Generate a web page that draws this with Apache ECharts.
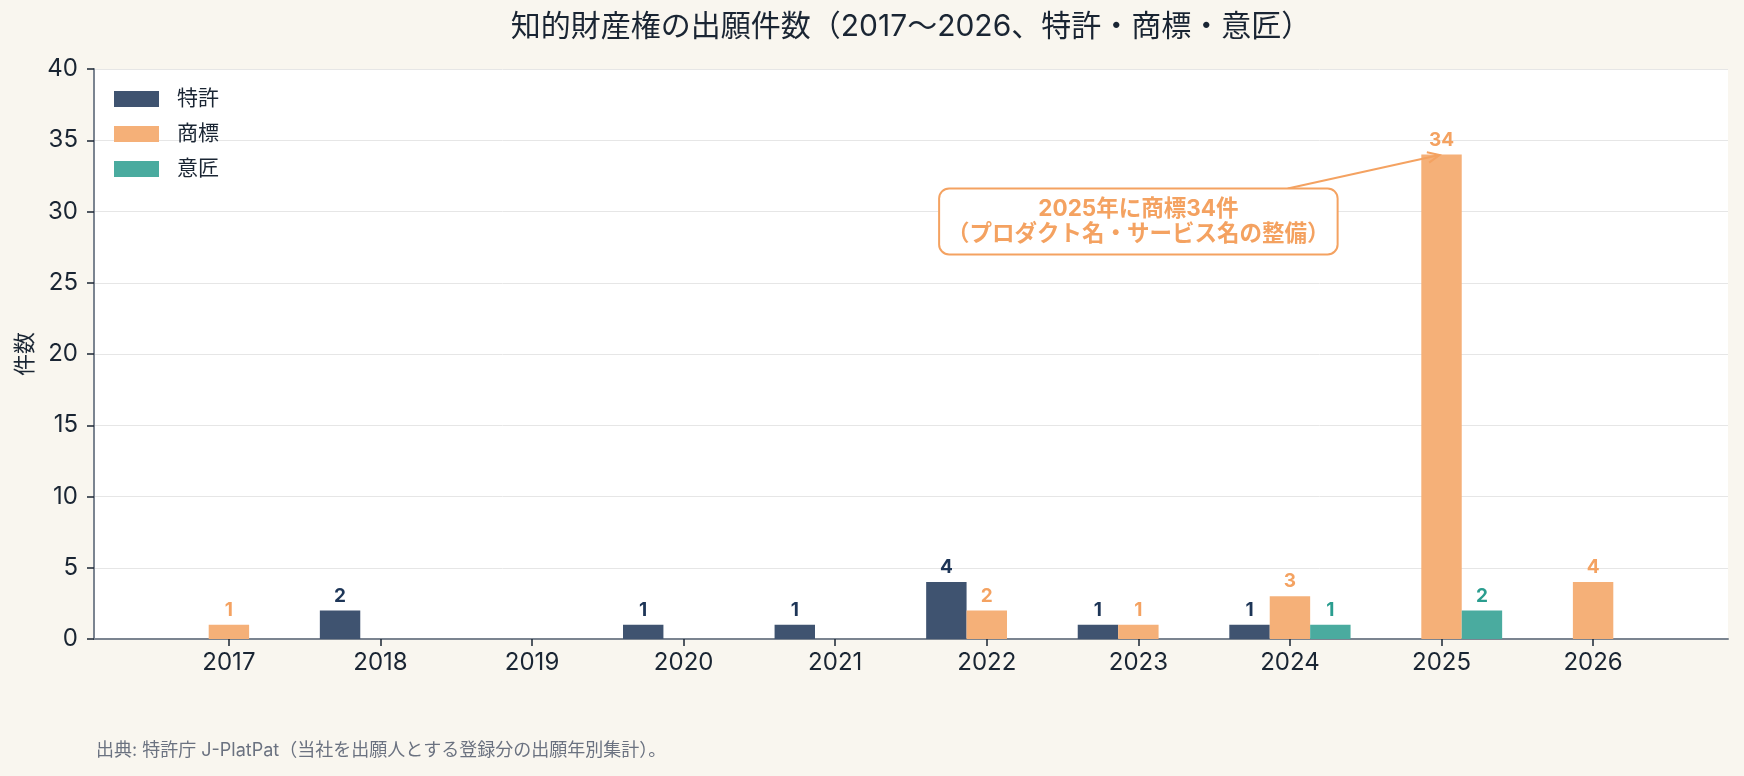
<!DOCTYPE html>
<html>
<head>
<meta charset="utf-8">
<script src="https://cdn.jsdelivr.net/npm/echarts@6/dist/echarts.min.js"></script>
<style>
  html, body { margin: 0; padding: 0; background: #f9f6ef; }
  #chart { width: 1744px; height: 776px; }
</style>
</head>
<body>
<div id="chart"></div>
<script>
// ---- data ----
const categories = ['2017', '2018', '2019', '2020', '2021', '2022', '2023', '2024', '2025', '2026'];
const patent    = [0, 2, 0, 1, 1, 4, 1, 1, 0, 0];
const trademark = [1, 0, 0, 0, 0, 2, 1, 3, 34, 4];
const design    = [0, 0, 0, 0, 0, 0, 0, 1, 2, 0];
const seriesNames = ['特許', '商標', '意匠'];
const yTicks = [0, 5, 10, 15, 20, 25, 30, 35, 40];
const annotationText = ['2025年に商標34件', '（プロダクト名・サービス名の整備）'];
const annotationAnchor = [6, 29.3];   // text position (category index, value)
const annotationTarget = [8, 34];     // 2025 trademark bar
const titleText = '知的財産権の出願件数（2017〜2026、特許・商標・意匠）';
const footerText = '出典: 特許庁 J-PlatPat（当社を出願人とする登録分の出願年別集計）。';

const FONT = 'Inter, "Noto Sans CJK JP", sans-serif';
const barColors = ['#3f5370', '#f5b078', '#4aab9f'];
const labelColors = ['#1d3557', '#f4a261', '#2a9d8f'];
const INK = '#1a2533';

const chart = echarts.init(document.getElementById('chart'), null, { renderer: 'canvas' });

function mkSeries(name, values, idx) {
  return {
    name: name,
    type: 'bar',
    data: values.map((v, i) => [i, v]),
    barWidth: '26.667%',
    barGap: '0%',
    itemStyle: { color: barColors[idx] },
    label: {
      show: true,
      position: 'top',
      distance: 5,
      color: labelColors[idx],
      fontFamily: FONT,
      fontWeight: 'bold',
      fontSize: 19,
      formatter: p => (p.value[1] ? String(p.value[1]) : '')
    },
    emphasis: { disabled: true },
    animation: false
  };
}

const option = {
  backgroundColor: '#f9f6ef',
  animation: false,
  textStyle: { fontFamily: FONT },
  legend: {
    orient: 'vertical',
    left: 114,
    top: 88,
    padding: 0,
    icon: 'rect',
    itemWidth: 45,
    itemHeight: 16,
    itemGap: 13,
    data: seriesNames,
    textStyle: { fontFamily: FONT, fontSize: 21, color: INK, lineHeight: 22, padding: [0, 0, 0, 13] }
  },
  grid: {
    left: 94, right: 16, top: 69, bottom: 137,
    show: true, backgroundColor: '#ffffff', borderWidth: 0,
    containLabel: false,
    outerBoundsMode: 'none'
  },
  xAxis: {
    type: 'value',
    min: -0.89,
    max: 9.89,
    axisLine: { show: true, onZero: false, lineStyle: { color: '#7b8490', width: 2 } },
    axisTick: { show: true, customValues: categories.map((c, i) => i), length: 7, lineStyle: { color: INK, width: 1.5 } },
    axisLabel: {
      show: true,
      customValues: categories.map((c, i) => i),
      formatter: v => categories[Math.round(v)] || '',
      margin: 12,
      fontFamily: FONT, fontSize: 24, color: INK
    },
    splitLine: { show: false }
  },
  yAxis: {
    type: 'value',
    min: 0, max: 40, interval: 5,
    name: '件数',
    nameLocation: 'middle',
    nameGap: 57,
    nameRotate: 90,
    nameTextStyle: { fontFamily: FONT, fontSize: 22, color: INK },
    axisLine: { show: true, onZero: false, lineStyle: { color: '#7b8490', width: 2 } },
    axisTick: { show: true, length: 7, lineStyle: { color: INK, width: 1.5 } },
    axisLabel: {
      margin: 16,
      fontFamily: FONT, fontSize: 24, color: INK,
      formatter: v => (yTicks.indexOf(v) >= 0 ? String(v) : '')
    },
    splitLine: { show: true, lineStyle: { color: '#e6e6e6', width: 1 } }
  },
  series: [
    mkSeries(seriesNames[0], patent, 0),
    mkSeries(seriesNames[1], trademark, 1),
    mkSeries(seriesNames[2], design, 2)
  ]
};

chart.setOption(option);

// ---- title centred over the plot area, and the annotation (positions from the chart's own scales) ----
const plotMid = chart.convertToPixel({ gridIndex: 0 }, [(-0.89 + 9.89) / 2, 40]);
const c = chart.convertToPixel({ gridIndex: 0 }, annotationAnchor);
const t = chart.convertToPixel({ gridIndex: 0 }, annotationTarget);
const hw = 197, hh = 33;
const dx = t[0] - c[0], dy = t[1] - c[1];
const s = Math.min(hw / Math.abs(dx || 1e-6), hh / Math.abs(dy || 1e-6));
const start = [c[0] + dx * s, c[1] + dy * s];
const len = Math.hypot(t[0] - start[0], t[1] - start[1]);
const ux = (t[0] - start[0]) / len, uy = (t[1] - start[1]) / len;
const tip = [t[0] - ux * 2, t[1] - uy * 2];
const ah = 13, ang = 0.42;
function rot(x, y, a) { return [x * Math.cos(a) - y * Math.sin(a), x * Math.sin(a) + y * Math.cos(a)]; }
const b1 = rot(-ux, -uy, ang), b2 = rot(-ux, -uy, -ang);
const ORANGE = '#f4a261';

chart.setOption({
  graphic: [
    {
      type: 'text', silent: true,
      x: plotMid[0], y: 27,
      style: {
        text: titleText, font: '30px ' + FONT, fill: INK,
        align: 'center', verticalAlign: 'middle'
      }
    },
    {
      type: 'line', z: 50, silent: true,
      shape: { x1: start[0], y1: start[1], x2: tip[0], y2: tip[1] },
      style: { stroke: ORANGE, lineWidth: 2 }
    },
    {
      type: 'polyline', z: 50, silent: true,
      shape: { points: [[tip[0] + b1[0] * ah, tip[1] + b1[1] * ah], tip, [tip[0] + b2[0] * ah, tip[1] + b2[1] * ah]] },
      style: { stroke: ORANGE, lineWidth: 2, fill: null }
    },
    {
      type: 'text', z: 60, silent: true,
      x: c[0], y: c[1],
      style: {
        text: annotationText.join('\n'),
        font: 'bold 22.5px ' + FONT,
        fill: ORANGE,
        align: 'center',
        verticalAlign: 'middle',
        lineHeight: 25,
        backgroundColor: '#ffffff',
        borderColor: ORANGE,
        borderWidth: 2,
        borderRadius: 9,
        padding: [7, 7]
      }
    },
    {
      type: 'text', silent: true,
      left: 96, top: 742,
      style: { text: footerText, font: '18px ' + FONT, fill: '#6b7280' }
    }
  ]
});
</script>
</body>
</html>
